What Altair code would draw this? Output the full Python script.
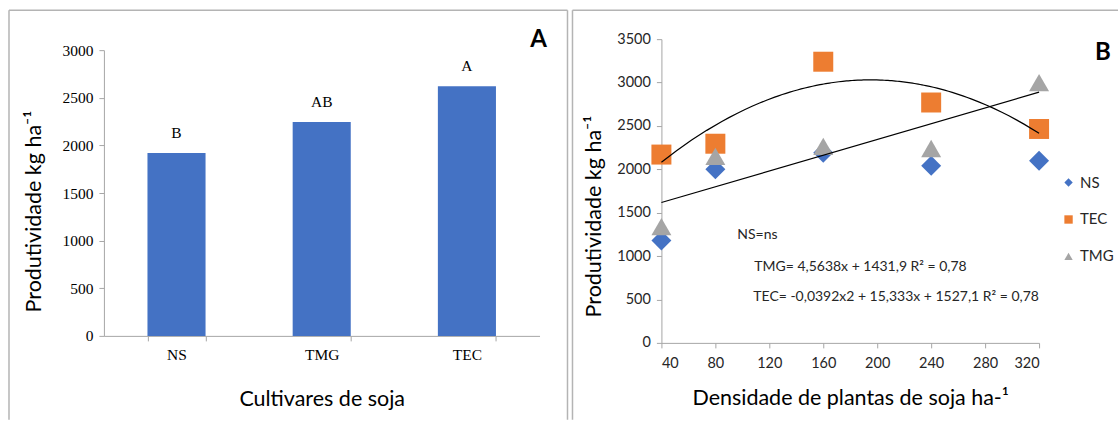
import altair as alt
import pandas as pd

# ---------------- data ----------------
cultivars = ["NS", "TMG", "TEC"]
yield_a = [1920, 2245, 2620]
letters = ["B", "AB", "A"]

density = [40, 80, 160, 240, 320]
ns_vals = [1180, 2000, 2190, 2040, 2100]
tec_vals = [2170, 2295, 3240, 2770, 2465]
tmg_vals = [1340, 2150, 2265, 2240, 3000]

series_names = ["NS", "TEC", "TMG"]
series_colors = ["#4472C4", "#ED7D31", "#A5A5A5"]
series_shapes = ["diamond", "square", "triangle-up"]

a_ticks = [0, 500, 1000, 1500, 2000, 2500, 3000]
b_yticks = [0, 500, 1000, 1500, 2000, 2500, 3000, 3500]
b_xticks = [40, 80, 120, 160, 200, 240, 280, 320]

SANS = "Lato"
SERIF = "Liberation Serif"
AXC = "#a6a6a6"
BORDER = "#b4b4b4"
TITLE_SIZE = 21.5

dfA = pd.DataFrame({"cultivar": cultivars, "yield": yield_a, "letter": letters})
rows = []
for name, vals in zip(series_names, [ns_vals, tec_vals, tmg_vals]):
    for d, v in zip(density, vals):
        rows.append({"series": name, "density": d, "value": v})
dfB = pd.DataFrame(rows)
one = pd.DataFrame({"k": [0]})

# ---------------- panel A ----------------
# plot group shares its top with panel B; the y range leaves 11 px free above 3000
WA, HA = 436, 297
xA = alt.X("cultivar:N", sort=cultivars,
           scale=alt.Scale(paddingInner=0.6, paddingOuter=0.3),
           axis=alt.Axis(title="Cultivares de soja", labelAngle=0, tickBand="extent",
                         tickSize=5, tickColor=AXC, domainColor=AXC,
                         labelFont=SERIF, labelFontSize=15.5, labelColor="black",
                         labelPadding=7, titleFont=SANS, titleFontSize=TITLE_SIZE,
                         titleFontWeight="normal", titleColor="black", titlePadding=25))
yA = alt.Y("yield:Q", scale=alt.Scale(domain=[0, 3000], nice=False, range=[HA, 11]),
           axis=alt.Axis(values=a_ticks, format="d", title="Produtividade kg ha⁻¹",
                         grid=False, tickSize=5, tickColor=AXC, domainColor=AXC,
                         labelFont=SERIF, labelFontSize=15.5, labelColor="black",
                         labelPadding=6, titleFont=SANS, titleFontSize=TITLE_SIZE,
                         titleFontWeight="normal", titleColor="black", titlePadding=16,
                         titleY=172))

barsA = alt.Chart(dfA).mark_bar(color="#4472C4").encode(x=xA, y=yA)
lettersA = alt.Chart(dfA).mark_text(font=SERIF, fontSize=15.5, dy=-20, color="black").encode(
    x=xA, y=yA, text="letter:N")
tagA = alt.Chart(one).mark_text(font=SANS, fontSize=24, fontWeight="bold", color="black").encode(
    x=alt.value(435), y=alt.value(1), text=alt.value("A"))
bA1 = alt.Chart(one).mark_rule(color=BORDER, strokeWidth=1.5).encode(
    x=alt.value(-95), y=alt.value(-29), y2=alt.value(381))
bA2 = alt.Chart(one).mark_rule(color=BORDER, strokeWidth=1.5).encode(
    x=alt.value(-95), x2=alt.value(464), y=alt.value(-29))
bA3 = alt.Chart(one).mark_rule(color=BORDER, strokeWidth=1.5).encode(
    x=alt.value(464), y=alt.value(-29), y2=alt.value(381))

panelA = alt.layer(bA1, bA2, bA3, barsA, lettersA, tagA).properties(width=WA, height=HA)

# ---------------- panel B ----------------
WB, HB = 378, 304
xB = alt.X("density:Q", scale=alt.Scale(domain=[40, 320], nice=False, zero=False),
           axis=alt.Axis(values=b_xticks, format="d", title="Densidade de plantas de soja ha-¹",
                         grid=False, tickSize=5, tickColor=AXC, domainColor=AXC,
                         labelFont=SANS, labelFontSize=14.5, labelColor="#262626",
                         labelPadding=9, titleFont=SANS, titleFontSize=TITLE_SIZE,
                         titleFontWeight="normal", titleColor="black", titlePadding=17))
yB = alt.Y("value:Q", scale=alt.Scale(domain=[0, 3500], nice=False),
           axis=alt.Axis(values=b_yticks, format="d", title="Produtividade kg ha⁻¹",
                         grid=False, tickSize=5, tickColor=AXC, domainColor=AXC,
                         labelFont=SANS, labelFontSize=14.5, labelColor="#262626",
                         labelPadding=6, titleFont=SANS, titleFontSize=TITLE_SIZE,
                         titleFontWeight="normal", titleColor="black", titlePadding=11,
                         titleY=177))

leg = alt.Legend(title=None, orient="none", legendX=400, legendY=136,
                 symbolSize=70, labelFont=SANS, labelFontSize=15,
                 labelColor="#262626", rowPadding=21, symbolOpacity=1)
pointsB = alt.Chart(dfB).mark_point(filled=True, size=400, opacity=1).encode(
    x=xB, y=yB,
    color=alt.Color("series:N", scale=alt.Scale(domain=series_names, range=series_colors),
                    legend=leg),
    shape=alt.Shape("series:N", scale=alt.Scale(domain=series_names, range=series_shapes),
                    legend=leg),
)

tmg_line = alt.Chart(dfB).transform_filter(alt.datum.series == "TMG").transform_regression(
    "density", "value", method="linear").mark_line(color="black", strokeWidth=1.2).encode(x=xB, y=yB)
tec_line = alt.Chart(dfB).transform_filter(alt.datum.series == "TEC").transform_regression(
    "density", "value", method="poly", order=2).mark_line(color="black", strokeWidth=1.2).encode(x=xB, y=yB)

def note(txt, px, py):
    return alt.Chart(one).mark_text(font=SANS, fontSize=14, align="left", baseline="middle",
                                    color="#262626").encode(
        x=alt.value(px), y=alt.value(py), text=alt.value(txt))

n1 = note("NS=ns", 76, 196)
n2 = note("TMG= 4,5638x + 1431,9 R² = 0,78", 93, 228)
n3 = note("TEC= -0,0392x2 + 15,333x + 1527,1 R² = 0,78", 92, 258)
tagB = alt.Chart(one).mark_text(font=SANS, fontSize=24, fontWeight="bold", color="black").encode(
    x=alt.value(442), y=alt.value(14), text=alt.value("B"))
bB1 = alt.Chart(one).mark_rule(color=BORDER, strokeWidth=1.5).encode(
    x=alt.value(-89), y=alt.value(-29), y2=alt.value(381))
bB2 = alt.Chart(one).mark_rule(color=BORDER, strokeWidth=1.5).encode(
    x=alt.value(-89), x2=alt.value(457), y=alt.value(-29))

panelB = alt.layer(bB1, bB2, pointsB, tmg_line, tec_line, n1, n2, n3, tagB).properties(
    width=WB, height=HB)

chart = alt.concat(panelA, panelB, columns=2, align="none", spacing=3).resolve_scale(
    color="independent", shape="independent"
).properties(
    padding={"left": 8, "top": 9, "right": 0, "bottom": 0},
    background="white",
).configure_view(strokeWidth=0)

chart.save("out.html", embed_options={"renderer": "svg", "actions": False})
